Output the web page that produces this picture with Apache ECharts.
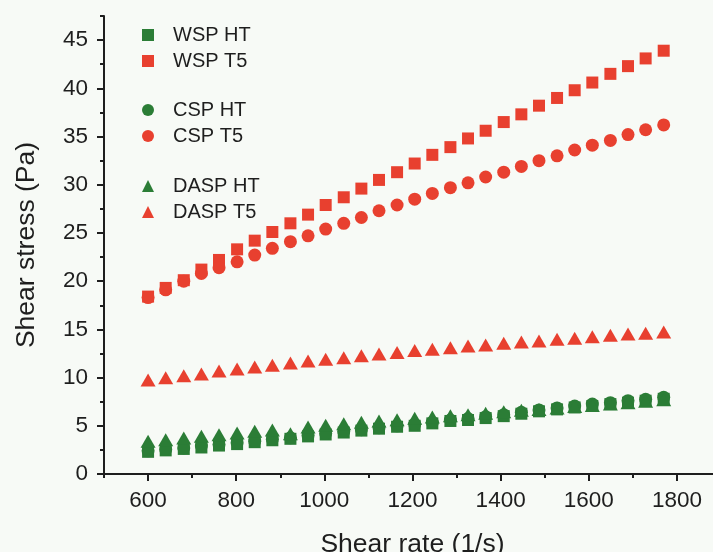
<!DOCTYPE html>
<html><head><meta charset="utf-8">
<script src="https://cdn.jsdelivr.net/npm/echarts@6/dist/echarts.min.js"></script>
<style>html,body{margin:0;padding:0;background:#f7faf6}#c{width:713px;height:552px}</style>
</head><body><div id="c"></div>
<script>
const shearRate = [600, 640, 681, 721, 761, 802, 842, 882, 923, 963, 1003, 1044, 1084, 1124, 1165, 1205, 1245, 1286, 1326, 1366, 1407, 1447, 1487, 1528, 1568, 1608, 1649, 1689, 1729, 1770];
const wspHT = [2.3, 2.45, 2.6, 2.75, 2.95, 3.1, 3.3, 3.5, 3.65, 3.9, 4.1, 4.3, 4.5, 4.7, 4.9, 5.0, 5.25, 5.5, 5.6, 5.8, 6.0, 6.25, 6.5, 6.7, 6.9, 7.05, 7.25, 7.4, 7.6, 7.8];
const wspT5 = [18.4, 19.3, 20.1, 21.2, 22.2, 23.3, 24.2, 25.1, 26.0, 26.9, 27.9, 28.7, 29.6, 30.5, 31.3, 32.2, 33.1, 33.9, 34.8, 35.6, 36.5, 37.3, 38.2, 39.0, 39.8, 40.6, 41.5, 42.3, 43.1, 43.9];
const cspHT = [2.4, 2.55, 2.7, 2.9, 3.05, 3.25, 3.4, 3.6, 3.75, 4.0, 4.2, 4.4, 4.6, 4.8, 5.0, 5.15, 5.35, 5.6, 5.75, 5.95, 6.15, 6.4, 6.65, 6.85, 7.05, 7.25, 7.4, 7.6, 7.75, 7.95];
const cspT5 = [18.3, 19.1, 20.0, 20.8, 21.4, 22.0, 22.7, 23.4, 24.1, 24.7, 25.4, 26.0, 26.6, 27.3, 27.9, 28.5, 29.1, 29.7, 30.2, 30.8, 31.3, 31.9, 32.5, 33.0, 33.6, 34.1, 34.6, 35.2, 35.7, 36.2];
const daspHT = [3.39, 3.56, 3.73, 3.91, 4.08, 4.25, 4.43, 4.56, 4.18, 4.87, 5.05, 5.22, 5.36, 5.5, 5.63, 5.78, 5.91, 6.05, 6.15, 6.29, 6.45, 6.6, 6.7, 6.85, 7.0, 7.1, 7.25, 7.4, 7.55, 7.7];
const daspT5 = [9.75, 9.99, 10.2, 10.37, 10.68, 10.89, 11.1, 11.27, 11.5, 11.72, 11.9, 12.06, 12.27, 12.44, 12.6, 12.8, 12.93, 13.1, 13.27, 13.38, 13.55, 13.69, 13.8, 13.97, 14.07, 14.24, 14.38, 14.52, 14.6, 14.72];
const xMajorTicks = [600, 800, 1000, 1200, 1400, 1600, 1800];
const xMinorTicks = [500, 700, 900, 1100, 1300, 1500, 1700, 1900];
const yMajorTicks = [0, 5, 10, 15, 20, 25, 30, 35, 40, 45];
const yMinorTicks = [2.5, 7.5, 12.5, 17.5, 22.5, 27.5, 32.5, 37.5, 42.5, 47.5];

const RED = '#e8402f', GREEN = '#2b7d36', INK = '#1e1e1e';
const FONT = 'Liberation Sans, Arial, sans-serif';
const pts = arr => shearRate.map((x, i) => [x, arr[i]]);
const mk = (name, arr, symbol, size, color) => ({
  name, type: 'scatter', data: pts(arr), symbol, symbolSize: size,
  itemStyle: { color, opacity: 1 }, xAxisIndex: 0, yAxisIndex: 0
});

const chart = echarts.init(document.getElementById('c'), null, { renderer: 'canvas' });
const legendBase = {
  orient: 'vertical', left: 137, itemWidth: 12, itemHeight: 12, itemGap: 6,
  textStyle: { fontSize: 20, fontFamily: FONT, color: INK, lineHeight: 19, padding: [0, 0, 0, 14] },
  selectedMode: false
};
chart.setOption({
  backgroundColor: '#f7faf6',
  animation: false,
  grid: { left: 104, right: -8, top: 16, bottom: 78, containLabel: false, outerBoundsMode: 'none' },
  legend: [
    Object.assign({}, legendBase, { top: 20, data: ['WSP HT', 'WSP T5'] }),
    Object.assign({}, legendBase, { top: 95, data: ['CSP HT', 'CSP T5'] }),
    Object.assign({}, legendBase, { top: 171, data: ['DASP HT', 'DASP T5'] })
  ],
  xAxis: [
    {
      type: 'value', min: 500, max: 1900, position: 'bottom',
      name: 'Shear rate (1/s)', nameLocation: 'middle', nameGap: 57,
      nameTextStyle: { fontSize: 26.5, fontFamily: FONT, color: INK },
      axisLine: { show: true, lineStyle: { color: INK, width: 2 } },
      axisTick: { show: true, length: 7, lineStyle: { color: INK, width: 2 }, customValues: xMajorTicks },
      axisLabel: { fontSize: 22.5, fontFamily: FONT, color: INK, margin: 15, customValues: xMajorTicks, formatter: v => String(v) },
      splitLine: { show: false }
    },
    {
      type: 'value', min: 500, max: 1900, position: 'bottom',
      axisLine: { show: false },
      axisTick: { show: true, length: 4, lineStyle: { color: INK, width: 2 }, customValues: xMinorTicks },
      axisLabel: { show: false }, splitLine: { show: false }
    }
  ],
  yAxis: [
    {
      type: 'value', min: 0, max: 47.5, position: 'left',
      name: 'Shear stress (Pa)', nameLocation: 'middle', nameGap: 64,
      nameTextStyle: { fontSize: 26.5, fontFamily: FONT, color: INK },
      axisLine: { show: true, lineStyle: { color: INK, width: 2 } },
      axisTick: { show: true, length: 7, lineStyle: { color: INK, width: 2 }, customValues: yMajorTicks },
      axisLabel: { fontSize: 22.5, fontFamily: FONT, color: INK, margin: 16, customValues: yMajorTicks, formatter: v => String(v) },
      splitLine: { show: false }
    },
    {
      type: 'value', min: 0, max: 47.5, position: 'left',
      axisLine: { show: false },
      axisTick: { show: true, length: 4, lineStyle: { color: INK, width: 2 }, customValues: yMinorTicks },
      axisLabel: { show: false }, splitLine: { show: false }
    }
  ],
  series: [
    mk('WSP HT', wspHT, 'rect', 12, GREEN),
    mk('WSP T5', wspT5, 'rect', 12, RED),
    mk('CSP HT', cspHT, 'circle', 13, GREEN),
    mk('CSP T5', cspT5, 'circle', 13, RED),
    mk('DASP HT', daspHT, 'triangle', [15, 13], GREEN),
    mk('DASP T5', daspT5, 'triangle', [15, 13], RED)
  ]
});
</script></body></html>
